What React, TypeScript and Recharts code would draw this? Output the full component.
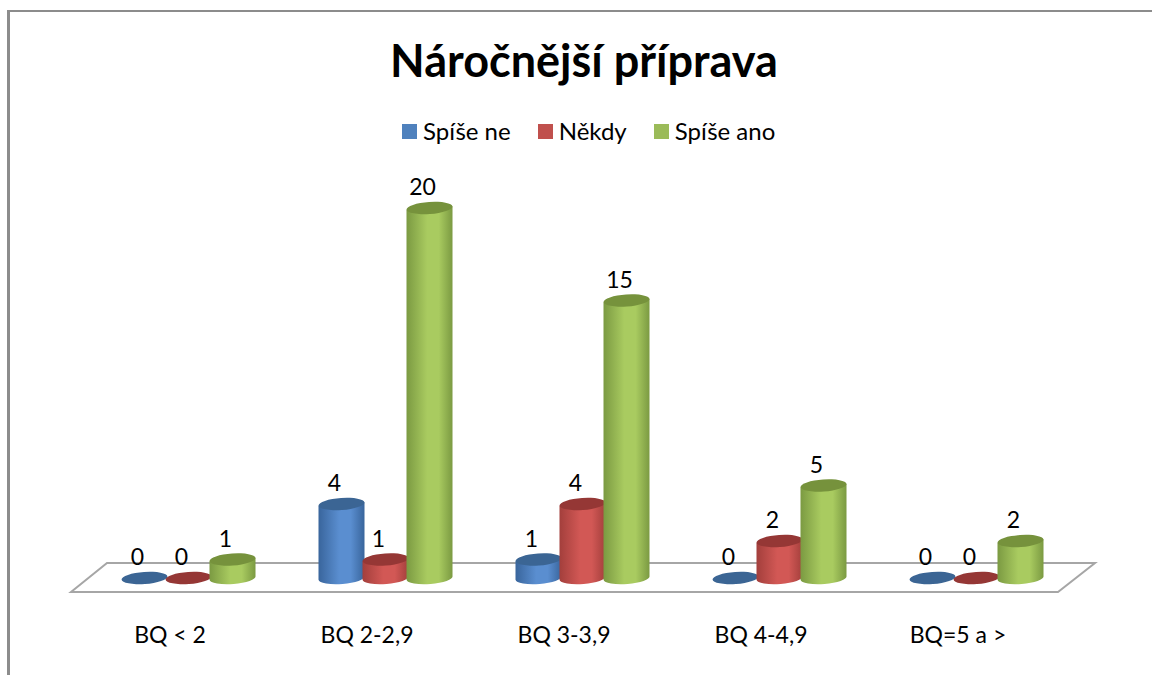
import { BarChart, Bar, XAxis, YAxis, Legend, LabelList } from 'recharts';

const categories = ['BQ < 2', 'BQ 2-2,9', 'BQ 3-3,9', 'BQ 4-4,9', 'BQ=5 a >'];
const spiseNe = [0, 4, 1, 0, 0];
const nekdy = [0, 1, 4, 2, 0];
const spiseAno = [1, 20, 15, 5, 2];

const data = categories.map((name, i) => ({
  name,
  spiseNe: spiseNe[i],
  nekdy: nekdy[i],
  spiseAno: spiseAno[i],
}));

const FONT = 'Lato, "Open Sans", sans-serif';

const seriesStyles = [
  { key: 'spiseNe', label: 'Spíše ne', id: 'blue', swatch: '#4f81bd', top: '#3b6594', edge: '#39659c', mid: '#5a8ed0' },
  { key: 'nekdy', label: 'Někdy', id: 'red', swatch: '#c0504d', top: '#953735', edge: '#a33f3c', mid: '#d25855' },
  { key: 'spiseAno', label: 'Spíše ano', id: 'green', swatch: '#9bbb59', top: '#76923c', edge: '#7b9a42', mid: '#a9cb60' },
];

// cylinder drawn from the bar rectangle the scale gives us
const Cylinder = ({ x, y, width, height, id, top }: any) => {
  const r = width / 2;
  const cx = x + r;
  const ry = 6;
  const tilt = 1.8;
  const base = y + height;
  return (
    <g>
      {height > 0 && (
        <path
          d={`M${cx - r},${y + tilt} L${cx - r},${base + tilt} A${r},${ry} -4 0 0 ${cx + r},${base - tilt} L${cx + r},${y - tilt} Z`}
          fill={`url(#${id})`}
        />
      )}
      <ellipse cx={cx} cy={y} rx={r} ry={ry} fill={top} transform={`rotate(-4 ${cx} ${y})`} />
    </g>
  );
};

const LegendRow = () => (
  <div style={{ display: 'flex', fontFamily: FONT, fontSize: 24, color: '#000', lineHeight: '30px', whiteSpace: 'nowrap' }}>
    {seriesStyles.map((s, i) => (
      <div key={s.key} style={{ display: 'flex', alignItems: 'center', marginRight: i < 2 ? 27 : 0 }}>
        <span style={{ width: 15, height: 15, flexShrink: 0, background: s.swatch, marginRight: 6 }} />
        <span>{s.label}</span>
      </div>
    ))}
  </div>
);

export default function App() {
  return (
    <div style={{ position: 'fixed', left: 0, top: 0, width: 1152, height: 675, overflow: 'hidden', background: '#fff' }}>
      {/* frame of the pasted chart, only top and left are visible */}
      <div style={{ position: 'absolute', left: 7, top: 10, right: 0, bottom: 0, borderTop: '2px solid #8c8c8c', borderLeft: '3px solid #8c8c8c' }} />
      <BarChart
        width={1152}
        height={675}
        data={data}
        barSize={46}
        barGap={-2}
        barCategoryGap={0}
        margin={{ top: 208, right: 77.5, bottom: 7, left: 89.5 }}
      >
        <defs>
          {seriesStyles.map((s) => (
            <linearGradient key={s.id} id={s.id} x1="0" y1="0" x2="1" y2="0">
              <stop offset="0%" stopColor={s.edge} />
              <stop offset="45%" stopColor={s.mid} />
              <stop offset="70%" stopColor={s.mid} />
              <stop offset="100%" stopColor={s.edge} />
            </linearGradient>
          ))}
        </defs>
        {/* floor of the 3D plot */}
        <polygon points="71,592 107,563 1095,563 1058,592" fill="#fff" stroke="#a6a6a6" strokeWidth={2} />
        <text x={584} y={77} textAnchor="middle" fontFamily={FONT} fontWeight={700} fontSize={45} fill="#000">
          Náročnější příprava
        </text>
        <XAxis
          dataKey="name"
          interval={0}
          axisLine={false}
          tickLine={false}
          height={60}
          tickMargin={43}
          tick={{ fontSize: 23, fontFamily: FONT, fill: '#000', dx: -18 }}
        />
        <YAxis hide domain={[0, 20]} />
        <Legend
          content={<LegendRow />}
          wrapperStyle={{ position: 'absolute', left: 402, top: 116, width: 'auto' }}
        />
        {seriesStyles.map((s) => (
          <Bar
            key={s.key}
            dataKey={s.key}
            name={s.label}
            fill={s.swatch}
            isAnimationActive={false}
            shape={(props: any) => <Cylinder {...props} id={s.id} top={s.top} />}
          >
            <LabelList
              dataKey={s.key}
              position="top"
              offset={13}
              dx={-7}
              fontSize={23}
              fontFamily={FONT}
              fill="#000"
            />
          </Bar>
        ))}
      </BarChart>
    </div>
  );
}
